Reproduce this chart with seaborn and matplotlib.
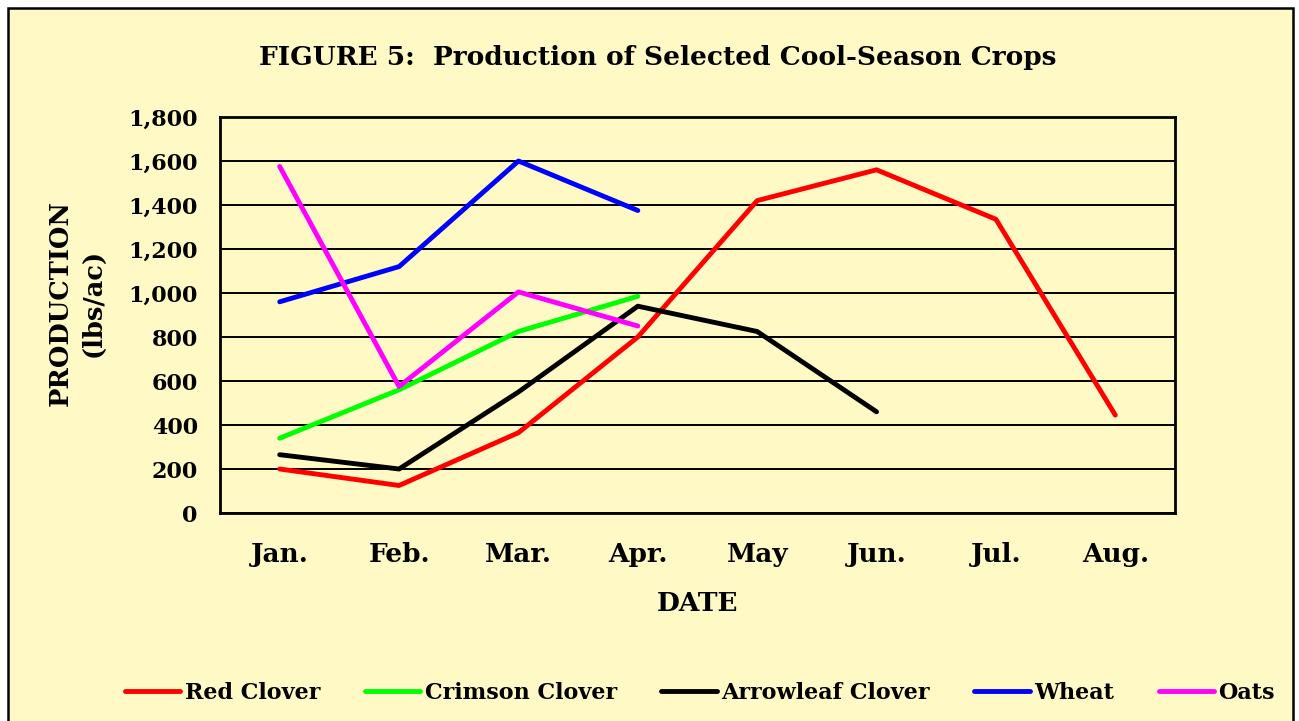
#### Figure 5: production of selected cool-season crops
# line chart, one line per crop, months along x

import numpy as np
import pandas as pd
import matplotlib
matplotlib.use("Agg")
import matplotlib.pyplot as plt
from matplotlib.patches import Rectangle
import seaborn as sns

# data (lbs/ac)
months = ["Jan.", "Feb.", "Mar.", "Apr.", "May", "Jun.", "Jul.", "Aug."]
red_clover = [200, 125, 365, 800, 1420, 1560, 1335, 445]
crimson_clover = [340, 560, 825, 985]
arrowleaf_clover = [265, 200, 550, 940, 825, 460]
wheat = [960, 1120, 1600, 1375]
oats = [1575, 575, 1005, 850]

crops = ["Red Clover", "Crimson Clover", "Arrowleaf Clover", "Wheat", "Oats"]
series = [red_clover, crimson_clover, arrowleaf_clover, wheat, oats]
colors = ["#FF0000", "#00FF00", "#000000", "#0000FF", "#FF00FF"]
yticks = [0, 200, 400, 600, 800, 1000, 1200, 1400, 1600, 1800]

bg = "#FFF9C5"

# long-form table for seaborn
rows = []
for crop, vals in zip(crops, series):
    for i, v in enumerate(vals):
        rows.append({"crop": crop, "pos": i, "production": v})
df = pd.DataFrame(rows)

sns.set_style("white")
plt.rcParams['font.family'] = ['DejaVu Serif']
plt.rcParams['font.weight'] = 'bold'
plt.rcParams['text.color'] = 'black'
plt.rcParams['axes.labelcolor'] = 'black'
plt.rcParams['xtick.color'] = 'black'
plt.rcParams['ytick.color'] = 'black'

fig = plt.figure(figsize=(12.99, 7.21), dpi=100, facecolor="white")
# yellow chart area with black frame
fig.patches.append(Rectangle((8/1299, -0.01), (1293-8)/1299, 1 - 8/721 + 0.01,
                             transform=fig.transFigure, facecolor=bg,
                             edgecolor="black", lw=1.8, zorder=-1))

ax = fig.add_axes([220/1299, 1 - 513/721, (1175-220)/1299, (513-117)/721])
ax.set_zorder(2)
ax.set_facecolor(bg)

sns.lineplot(data=df, x="pos", y="production", hue="crop", hue_order=crops,
             palette=colors, lw=3.5, sort=False, estimator=None, ax=ax)

ax.set_xlim(-0.5, len(months) - 0.5)
ax.set_ylim(0, 1800)
ax.set_yticks(yticks)
ax.set_yticklabels([f"{v:,}" for v in yticks])
ax.yaxis.grid(True, color="black", lw=1.4)
ax.set_axisbelow(True)

# ticks between categories, labels at centers
ax.set_xticks(np.arange(len(months) + 1) - 0.5)
ax.set_xticklabels([])
ax.set_xticks(np.arange(len(months)), minor=True)
ax.set_xticklabels(months, minor=True)
ax.tick_params(axis="x", which="major", length=6, width=1.5, color="black", direction="out")
ax.tick_params(axis="x", which="minor", length=0, pad=21, labelsize=19)
ax.tick_params(axis="y", length=6, width=1.5, color="black", direction="out", labelsize=16, pad=10)

for s in ax.spines.values():
    s.set_color("black")
    s.set_linewidth(2)

ax.set_xlabel("DATE", fontsize=19, fontweight="bold", labelpad=17)
ax.set_ylabel("PRODUCTION\n(lbs/ac)", fontsize=18.5, fontweight="bold",
              linespacing=1.4)
ax.yaxis.set_label_coords(-0.12, 0.53)

fig.text(658/1299, 1 - 58/721, "FIGURE 5:  Production of Selected Cool-Season Crops",
         ha="center", va="center", fontsize=19, fontweight="bold")

ax.legend(loc="center", bbox_to_anchor=(700/1299, 1 - 693/721),
          bbox_transform=fig.transFigure, ncol=5, frameon=False,
          prop={"family": "DejaVu Serif", "weight": "bold", "size": 16},
          handlelength=2.5, handletextpad=0.2, columnspacing=2.0)

fig.savefig("out.png", dpi=100, facecolor="white")
